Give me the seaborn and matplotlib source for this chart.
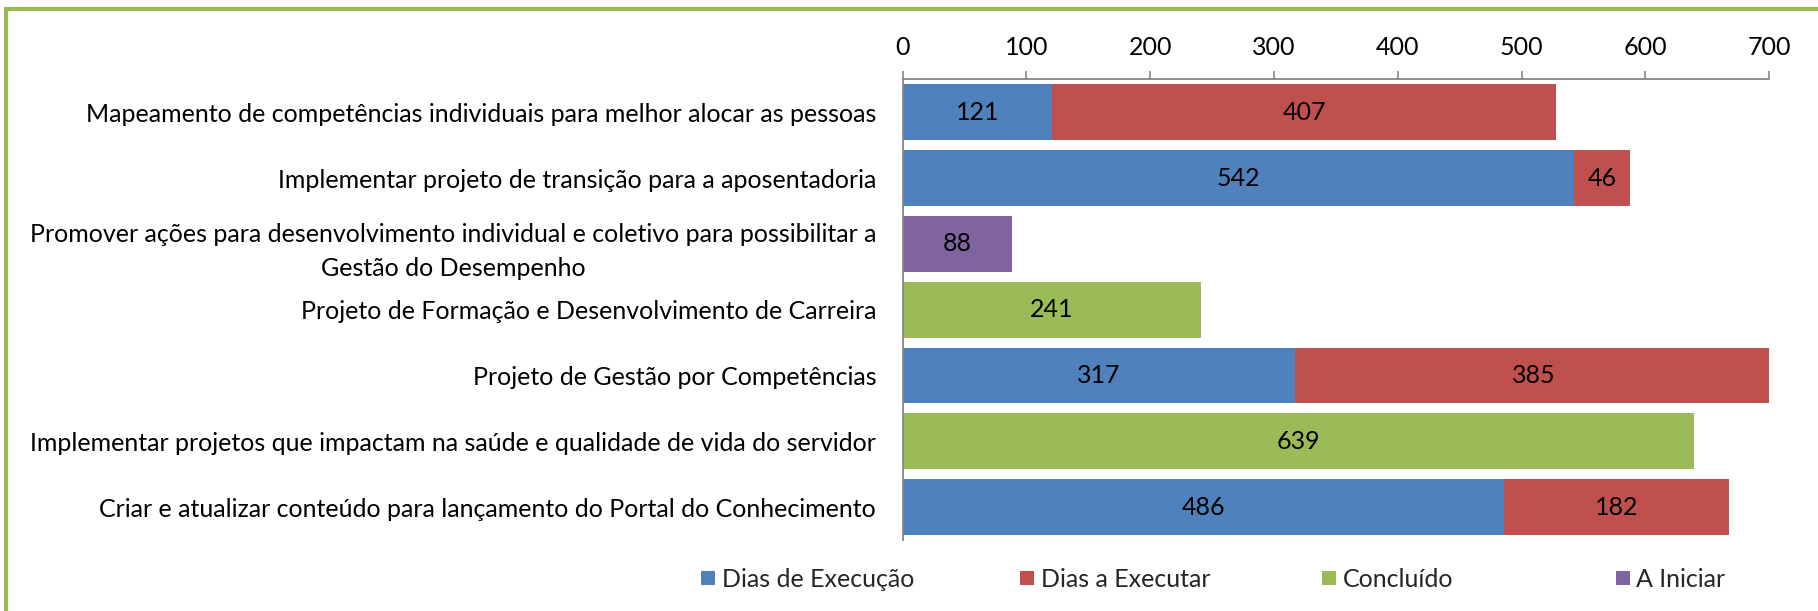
import numpy as np
import matplotlib.pyplot as plt
import seaborn as sns
from matplotlib.lines import Line2D
from matplotlib.patches import Rectangle

sns.set_theme(style="white")
plt.rcParams["font.family"] = ["Lato", "DejaVu Sans"]

# Data
projetos = [
    "Mapeamento de competências individuais para melhor alocar as pessoas",
    "Implementar projeto de transição para a aposentadoria",
    "Promover ações para desenvolvimento individual e coletivo para possibilitar a\nGestão do Desempenho",
    "Projeto de Formação e Desenvolvimento de Carreira",
    "Projeto de Gestão por Competências",
    "Implementar projetos que impactam na saúde e qualidade de vida do servidor",
    "Criar e atualizar conteúdo para lançamento do Portal do Conhecimento",
]
dias_execucao = [121, 542, 0, 0, 317, 0, 486]
dias_executar = [407, 46, 0, 0, 385, 0, 182]
concluido = [0, 0, 0, 241, 0, 639, 0]
a_iniciar = [0, 0, 88, 0, 0, 0, 0]

series = ["Dias de Execução", "Dias a Executar", "Concluído", "A Iniciar"]
colors = ["#4F81BD", "#C0504D", "#9BBB59", "#8064A2"]
values = [dias_execucao, dias_executar, concluido, a_iniciar]

FS = 18

fig = plt.figure(figsize=(18.18, 6.11), dpi=100)
ax = fig.add_axes([0.4965, 0.1162, 0.9731 - 0.4965, 0.8699 - 0.1162])

# stacked bars: draw cumulative totals from the back to the front
cum = np.cumsum(np.array(values), axis=0)
for k in range(len(series) - 1, -1, -1):
    sns.barplot(x=cum[k], y=projetos, color=colors[k], width=0.85,
                orient="h", linewidth=0, saturation=1, ax=ax)

# value labels centred on each segment
lefts = np.vstack([np.zeros(len(projetos)), cum[:-1]])
for k in range(len(series)):
    for i, v in enumerate(values[k]):
        if v > 0:
            ax.text(lefts[k][i] + v / 2, i, str(v), ha="center", va="center",
                    fontsize=FS, color="black")

gray = "#868686"
ax.set_xlim(0, 700)
ax.set_xticks(range(0, 701, 100))
ax.xaxis.tick_top()
ax.tick_params(axis="x", which="major", direction="out", length=6, width=1.2,
               color=gray, labelsize=FS, pad=9, labelcolor="black")
ax.set_yticks(np.arange(-0.5, len(projetos), 1), minor=True)
ax.tick_params(axis="y", which="minor", direction="out", length=6.5, width=1.2, color=gray)
ax.tick_params(axis="y", which="major", length=0, labelsize=FS, pad=19, labelcolor="black")
for lbl in ax.get_yticklabels():
    lbl.set_multialignment("center")
    lbl.set_linespacing(1.6)
ax.set_xlabel("")
ax.set_ylabel("")
for s in ["right", "bottom"]:
    ax.spines[s].set_visible(False)
for s in ["top", "left"]:
    ax.spines[s].set_color(gray)
    ax.spines[s].set_linewidth(1.3)

# legend: one entry per column, evenly spaced like the original
legend_x = [0.384, 0.5595, 0.7255, 0.887]
for name, c, lx in zip(series, colors, legend_x):
    h = Line2D([0], [0], marker="s", linestyle="", markersize=10,
               markerfacecolor=c, markeredgewidth=0)
    fig.legend([h], [name], loc="center left", bbox_to_anchor=(lx, 0.052),
               frameon=False, fontsize=FS, handletextpad=0.15, handlelength=0.8,
               borderpad=0, borderaxespad=0)

# green frame (top and left edges visible)
fig.patches.append(Rectangle((6 / 1818, -0.2), 1.2, 1.2 - 9 / 611, fill=False,
                             edgecolor="#9BBB59", linewidth=3,
                             transform=fig.transFigure, figure=fig))

fig.savefig("out.png", dpi=100)
